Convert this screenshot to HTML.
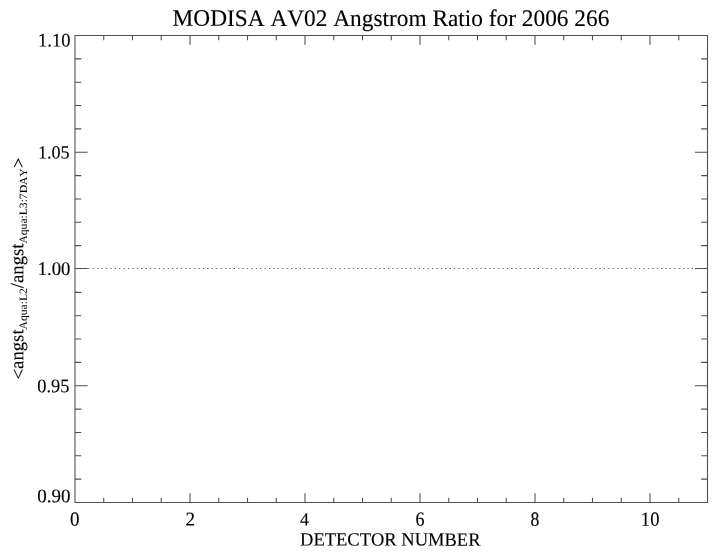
<!DOCTYPE html>
<html><head><meta charset="utf-8"><title>MODISA AV02 Angstrom Ratio for 2006 266</title><style>
html,body{margin:0;padding:0;background:#fff;}
body{width:718px;height:556px;overflow:hidden;}
svg{display:block;will-change:transform;}
text{font-family:"Liberation Serif",serif;fill:#000;stroke:#000;stroke-width:0.12px;stroke-linejoin:round;text-rendering:geometricPrecision;font-kerning:none;font-variant-ligatures:none;}
text.sub{stroke-width:0.05px;}
</style></head><body>
<svg width="718" height="556" viewBox="0 0 718 556">
<rect width="718" height="556" fill="#fff"/>
<g opacity="0.69"><path d="M75.0 35.5H707.5V502.5H75.0ZM75.00 502.50L75.00 493.16M75.00 35.50L75.00 44.84M103.75 502.50L103.75 497.83M103.75 35.50L103.75 40.17M132.50 502.50L132.50 497.83M132.50 35.50L132.50 40.17M161.25 502.50L161.25 497.83M161.25 35.50L161.25 40.17M190.00 502.50L190.00 493.16M190.00 35.50L190.00 44.84M218.75 502.50L218.75 497.83M218.75 35.50L218.75 40.17M247.50 502.50L247.50 497.83M247.50 35.50L247.50 40.17M276.25 502.50L276.25 497.83M276.25 35.50L276.25 40.17M305.00 502.50L305.00 493.16M305.00 35.50L305.00 44.84M333.75 502.50L333.75 497.83M333.75 35.50L333.75 40.17M362.50 502.50L362.50 497.83M362.50 35.50L362.50 40.17M391.25 502.50L391.25 497.83M391.25 35.50L391.25 40.17M420.00 502.50L420.00 493.16M420.00 35.50L420.00 44.84M448.75 502.50L448.75 497.83M448.75 35.50L448.75 40.17M477.50 502.50L477.50 497.83M477.50 35.50L477.50 40.17M506.25 502.50L506.25 497.83M506.25 35.50L506.25 40.17M535.00 502.50L535.00 493.16M535.00 35.50L535.00 44.84M563.75 502.50L563.75 497.83M563.75 35.50L563.75 40.17M592.50 502.50L592.50 497.83M592.50 35.50L592.50 40.17M621.25 502.50L621.25 497.83M621.25 35.50L621.25 40.17M650.00 502.50L650.00 493.16M650.00 35.50L650.00 44.84M678.75 502.50L678.75 497.83M678.75 35.50L678.75 40.17M707.50 502.50L707.50 497.83M707.50 35.50L707.50 40.17M75.00 502.50L87.65 502.50M707.50 502.50L694.85 502.50M75.00 479.15L81.33 479.15M707.50 479.15L701.17 479.15M75.00 455.80L81.33 455.80M707.50 455.80L701.17 455.80M75.00 432.45L81.33 432.45M707.50 432.45L701.17 432.45M75.00 409.10L81.33 409.10M707.50 409.10L701.17 409.10M75.00 385.75L87.65 385.75M707.50 385.75L694.85 385.75M75.00 362.40L81.33 362.40M707.50 362.40L701.17 362.40M75.00 339.05L81.33 339.05M707.50 339.05L701.17 339.05M75.00 315.70L81.33 315.70M707.50 315.70L701.17 315.70M75.00 292.35L81.33 292.35M707.50 292.35L701.17 292.35M75.00 268.50L87.65 268.50M707.50 268.50L694.85 268.50M75.00 245.65L81.33 245.65M707.50 245.65L701.17 245.65M75.00 222.30L81.33 222.30M707.50 222.30L701.17 222.30M75.00 198.95L81.33 198.95M707.50 198.95L701.17 198.95M75.00 175.60L81.33 175.60M707.50 175.60L701.17 175.60M75.00 152.25L87.65 152.25M707.50 152.25L694.85 152.25M75.00 128.90L81.33 128.90M707.50 128.90L701.17 128.90M75.00 105.55L81.33 105.55M707.50 105.55L701.17 105.55M75.00 82.20L81.33 82.20M707.50 82.20L701.17 82.20M75.00 58.85L81.33 58.85M707.50 58.85L701.17 58.85M75.00 35.50L87.65 35.50M707.50 35.50L694.85 35.50" fill="none" stroke="#000" stroke-width="1.08"/></g>
<path fill="#000" fill-opacity="0.62" d="M88.34 267.95h1.2v1.1h-1.2zM92.74 267.95h1.2v1.1h-1.2zM97.15 267.95h1.2v1.1h-1.2zM101.56 267.95h1.2v1.1h-1.2zM105.96 267.95h1.2v1.1h-1.2zM110.37 267.95h1.2v1.1h-1.2zM114.77 267.95h1.2v1.1h-1.2zM119.18 267.95h1.2v1.1h-1.2zM123.59 267.95h1.2v1.1h-1.2zM127.99 267.95h1.2v1.1h-1.2zM132.40 267.95h1.2v1.1h-1.2zM136.80 267.95h1.2v1.1h-1.2zM141.21 267.95h1.2v1.1h-1.2zM145.62 267.95h1.2v1.1h-1.2zM150.02 267.95h1.2v1.1h-1.2zM154.43 267.95h1.2v1.1h-1.2zM158.83 267.95h1.2v1.1h-1.2zM163.24 267.95h1.2v1.1h-1.2zM167.65 267.95h1.2v1.1h-1.2zM172.05 267.95h1.2v1.1h-1.2zM176.46 267.95h1.2v1.1h-1.2zM180.86 267.95h1.2v1.1h-1.2zM185.27 267.95h1.2v1.1h-1.2zM189.68 267.95h1.2v1.1h-1.2zM194.08 267.95h1.2v1.1h-1.2zM198.49 267.95h1.2v1.1h-1.2zM202.89 267.95h1.2v1.1h-1.2zM207.30 267.95h1.2v1.1h-1.2zM211.71 267.95h1.2v1.1h-1.2zM216.11 267.95h1.2v1.1h-1.2zM220.52 267.95h1.2v1.1h-1.2zM224.92 267.95h1.2v1.1h-1.2zM229.33 267.95h1.2v1.1h-1.2zM233.74 267.95h1.2v1.1h-1.2zM238.14 267.95h1.2v1.1h-1.2zM242.55 267.95h1.2v1.1h-1.2zM246.95 267.95h1.2v1.1h-1.2zM251.36 267.95h1.2v1.1h-1.2zM255.77 267.95h1.2v1.1h-1.2zM260.17 267.95h1.2v1.1h-1.2zM264.58 267.95h1.2v1.1h-1.2zM268.98 267.95h1.2v1.1h-1.2zM273.39 267.95h1.2v1.1h-1.2zM277.80 267.95h1.2v1.1h-1.2zM282.20 267.95h1.2v1.1h-1.2zM286.61 267.95h1.2v1.1h-1.2zM291.01 267.95h1.2v1.1h-1.2zM295.42 267.95h1.2v1.1h-1.2zM299.83 267.95h1.2v1.1h-1.2zM304.23 267.95h1.2v1.1h-1.2zM308.64 267.95h1.2v1.1h-1.2zM313.04 267.95h1.2v1.1h-1.2zM317.45 267.95h1.2v1.1h-1.2zM321.86 267.95h1.2v1.1h-1.2zM326.26 267.95h1.2v1.1h-1.2zM330.67 267.95h1.2v1.1h-1.2zM335.07 267.95h1.2v1.1h-1.2zM339.48 267.95h1.2v1.1h-1.2zM343.89 267.95h1.2v1.1h-1.2zM348.29 267.95h1.2v1.1h-1.2zM352.70 267.95h1.2v1.1h-1.2zM357.10 267.95h1.2v1.1h-1.2zM361.51 267.95h1.2v1.1h-1.2zM365.92 267.95h1.2v1.1h-1.2zM370.32 267.95h1.2v1.1h-1.2zM374.73 267.95h1.2v1.1h-1.2zM379.13 267.95h1.2v1.1h-1.2zM383.54 267.95h1.2v1.1h-1.2zM387.95 267.95h1.2v1.1h-1.2zM392.35 267.95h1.2v1.1h-1.2zM396.76 267.95h1.2v1.1h-1.2zM401.16 267.95h1.2v1.1h-1.2zM405.57 267.95h1.2v1.1h-1.2zM409.98 267.95h1.2v1.1h-1.2zM414.38 267.95h1.2v1.1h-1.2zM418.79 267.95h1.2v1.1h-1.2zM423.19 267.95h1.2v1.1h-1.2zM427.60 267.95h1.2v1.1h-1.2zM432.01 267.95h1.2v1.1h-1.2zM436.41 267.95h1.2v1.1h-1.2zM440.82 267.95h1.2v1.1h-1.2zM445.22 267.95h1.2v1.1h-1.2zM449.63 267.95h1.2v1.1h-1.2zM454.04 267.95h1.2v1.1h-1.2zM458.44 267.95h1.2v1.1h-1.2zM462.85 267.95h1.2v1.1h-1.2zM467.25 267.95h1.2v1.1h-1.2zM471.66 267.95h1.2v1.1h-1.2zM476.07 267.95h1.2v1.1h-1.2zM480.47 267.95h1.2v1.1h-1.2zM484.88 267.95h1.2v1.1h-1.2zM489.28 267.95h1.2v1.1h-1.2zM493.69 267.95h1.2v1.1h-1.2zM498.10 267.95h1.2v1.1h-1.2zM502.50 267.95h1.2v1.1h-1.2zM506.91 267.95h1.2v1.1h-1.2zM511.31 267.95h1.2v1.1h-1.2zM515.72 267.95h1.2v1.1h-1.2zM520.13 267.95h1.2v1.1h-1.2zM524.53 267.95h1.2v1.1h-1.2zM528.94 267.95h1.2v1.1h-1.2zM533.34 267.95h1.2v1.1h-1.2zM537.75 267.95h1.2v1.1h-1.2zM542.16 267.95h1.2v1.1h-1.2zM546.56 267.95h1.2v1.1h-1.2zM550.97 267.95h1.2v1.1h-1.2zM555.37 267.95h1.2v1.1h-1.2zM559.78 267.95h1.2v1.1h-1.2zM564.19 267.95h1.2v1.1h-1.2zM568.59 267.95h1.2v1.1h-1.2zM573.00 267.95h1.2v1.1h-1.2zM577.40 267.95h1.2v1.1h-1.2zM581.81 267.95h1.2v1.1h-1.2zM586.22 267.95h1.2v1.1h-1.2zM590.62 267.95h1.2v1.1h-1.2zM595.03 267.95h1.2v1.1h-1.2zM599.43 267.95h1.2v1.1h-1.2zM603.84 267.95h1.2v1.1h-1.2zM608.25 267.95h1.2v1.1h-1.2zM612.65 267.95h1.2v1.1h-1.2zM617.06 267.95h1.2v1.1h-1.2zM621.46 267.95h1.2v1.1h-1.2zM625.87 267.95h1.2v1.1h-1.2zM630.28 267.95h1.2v1.1h-1.2zM634.68 267.95h1.2v1.1h-1.2zM639.09 267.95h1.2v1.1h-1.2zM643.49 267.95h1.2v1.1h-1.2zM647.90 267.95h1.2v1.1h-1.2zM652.31 267.95h1.2v1.1h-1.2zM656.71 267.95h1.2v1.1h-1.2zM661.12 267.95h1.2v1.1h-1.2zM665.52 267.95h1.2v1.1h-1.2zM669.93 267.95h1.2v1.1h-1.2zM674.34 267.95h1.2v1.1h-1.2zM678.74 267.95h1.2v1.1h-1.2zM683.15 267.95h1.2v1.1h-1.2zM687.55 267.95h1.2v1.1h-1.2zM691.96 267.95h1.2v1.1h-1.2z"/>
<g><text transform="translate(172.538,25.850) skewY(0.03) scale(0.9974,1.0110)" font-size="23.4">MODISA AV02 Angstrom Ratio for 2006 266</text>
<text transform="translate(300.077,545.550) skewY(0.03) scale(1.0281,1.0385)" font-size="18">DETECTOR NUMBER</text>
<text transform="translate(70.123,525.653) skewY(0.03) scale(1.0604,1.1180)" font-size="18">0</text>
<text transform="translate(185.407,525.450) skewY(0.03) scale(1.0657,1.0900)" font-size="18">2</text>
<text transform="translate(300.102,525.450) skewY(0.03) scale(0.9908,1.0458)" font-size="18">4</text>
<text transform="translate(415.477,525.653) skewY(0.03) scale(0.9999,1.1229)" font-size="18">6</text>
<text transform="translate(530.577,525.653) skewY(0.03) scale(0.9818,1.1180)" font-size="18">8</text>
<text transform="translate(640.861,525.653) skewY(0.03) scale(1.0297,1.1180)" font-size="18">10</text>
<text transform="translate(37.247,502.327) skewY(0.03) scale(1.0541,1.0707)" font-size="18">0.90</text>
<text transform="translate(37.271,392.177) skewY(0.03) scale(1.0202,1.0707)" font-size="18">0.95</text>
<text transform="translate(37.716,275.078) skewY(0.03) scale(1.0389,1.0666)" font-size="18">1.00</text>
<text transform="translate(37.905,158.386) skewY(0.03) scale(1.0080,1.0355)" font-size="18">1.05</text>
<text transform="translate(38.085,46.376) skewY(0.03) scale(1.0269,1.0748)" font-size="18">1.10</text>
<text transform="translate(24.550,379.480) rotate(-89.97) scale(1.0400,1.0500)" font-size="18">&lt;</text>
<text transform="translate(23.250,368.923) rotate(-89.97) scale(1.0400,1.0500)" font-size="18">angst</text>
<text transform="translate(26.850,329.408) rotate(-89.97) scale(0.9650,0.9000)" font-size="12" class="sub">Aqua:L2</text>
<text transform="translate(23.250,288.244) rotate(-89.97) scale(1.0400,1.0500)" font-size="18">/angst</text>
<text transform="translate(26.850,243.528) rotate(-89.97) scale(0.9650,0.9000)" font-size="12" class="sub">Aqua:L3:7DAY</text>
<text transform="translate(24.550,168.270) rotate(-89.97) scale(1.0400,1.0500)" font-size="18">&gt;</text></g>
</svg>
</body></html>
